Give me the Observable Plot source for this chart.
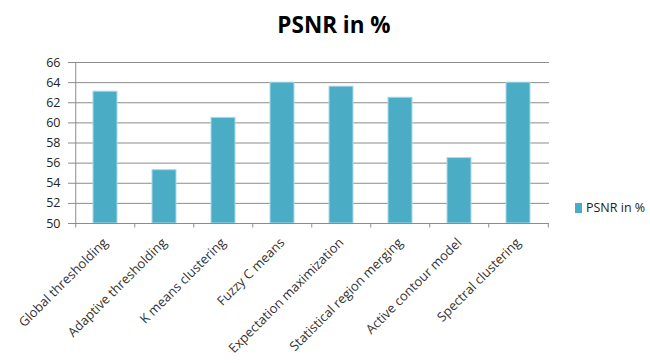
<!DOCTYPE html>
<html>
<head>
<meta charset="utf-8">
<script src="https://cdn.jsdelivr.net/npm/d3@7"></script>
<script src="https://cdn.jsdelivr.net/npm/@observablehq/plot@0.6"></script>
<style>
  html, body { margin: 0; padding: 0; background: #fff; }
  #chart { position: relative; width: 650px; height: 363px; overflow: hidden; font-family: "Open Sans", sans-serif; }
  #title { position: absolute; left: 0; width: 668px; top: 9px; text-align: center; font-size: 22.5px; font-weight: bold; color: #000; }
  #legend { position: absolute; left: 575px; top: 199px; font-size: 12.5px; color: #222; display: flex; align-items: center; white-space: nowrap; }
  #legend .sw { width: 7px; height: 10px; background: #4BACC6; margin-right: 4px; }
  #plot { position: absolute; left: 0; top: 0; }
</style>
</head>
<body>
<div id="chart">
  <div id="plot"></div>
  <div id="title">PSNR in %</div>
  <div id="legend"><span class="sw"></span><span>PSNR in %</span></div>
</div>
<script>
const methods = [
  "Global thresholding",
  "Adaptive thresholding",
  "K means clustering",
  "Fuzzy C means",
  "Expectation maximization",
  "Statistical region merging",
  "Active contour model",
  "Spectral clustering"
];
const psnr = [63.1, 55.3, 60.5, 64.0, 63.6, 62.5, 56.5, 64.0];
const yTicks = [50, 52, 54, 56, 58, 60, 62, 64, 66];

const rows = methods.map((m, i) => ({method: m, value: psnr[i]}));

const W = 650, H = 363, mL = 73, mR = 101, mT = 62, mB = 140;
const step = (W - mL - mR) / methods.length;

const plot = Plot.plot({
  width: W,
  height: H,
  marginLeft: mL,
  marginRight: mR,
  marginTop: mT,
  marginBottom: mB,
  style: {fontFamily: "Open Sans, sans-serif", fontSize: "12px", color: "#333", background: "transparent", overflow: "visible"},
  x: {domain: methods, paddingInner: 0.6, paddingOuter: 0.3, label: null},
  y: {domain: [50, 66], ticks: yTicks, label: null},
  marks: [
    Plot.gridY(yTicks, {stroke: "#8c8c8c", strokeOpacity: 1, strokeWidth: 1}),
    Plot.barY(rows, {x: "method", y1: 50, y2: "value", fill: "#4BACC6", stroke: "#a8dbe8", strokeWidth: 1}),
    Plot.ruleY([50], {stroke: "#8c8c8c"}),
    Plot.axisY({ticks: yTicks, tickSize: 5, tickPadding: 8, stroke: "#8c8c8c", fontSize: 12.5, fill: "#222"}),
    Plot.ruleX([methods[0]], {x: d => d, y1: 50, y2: 66, dx: -step / 2, stroke: "#8c8c8c"}),
    Plot.ruleX(methods, {x: d => d, y1: 50, y2: 49.55, dx: -step / 2, stroke: "#8c8c8c"}),
    Plot.ruleX([methods[methods.length - 1]], {x: d => d, y1: 50, y2: 49.55, dx: step / 2, stroke: "#8c8c8c"}),
    Plot.axisX({tickSize: 0, tickRotate: -45, tickPadding: 17, fontSize: 13, fill: "#333"})
  ]
});
document.getElementById("plot").appendChild(plot);
</script>
</body>
</html>
